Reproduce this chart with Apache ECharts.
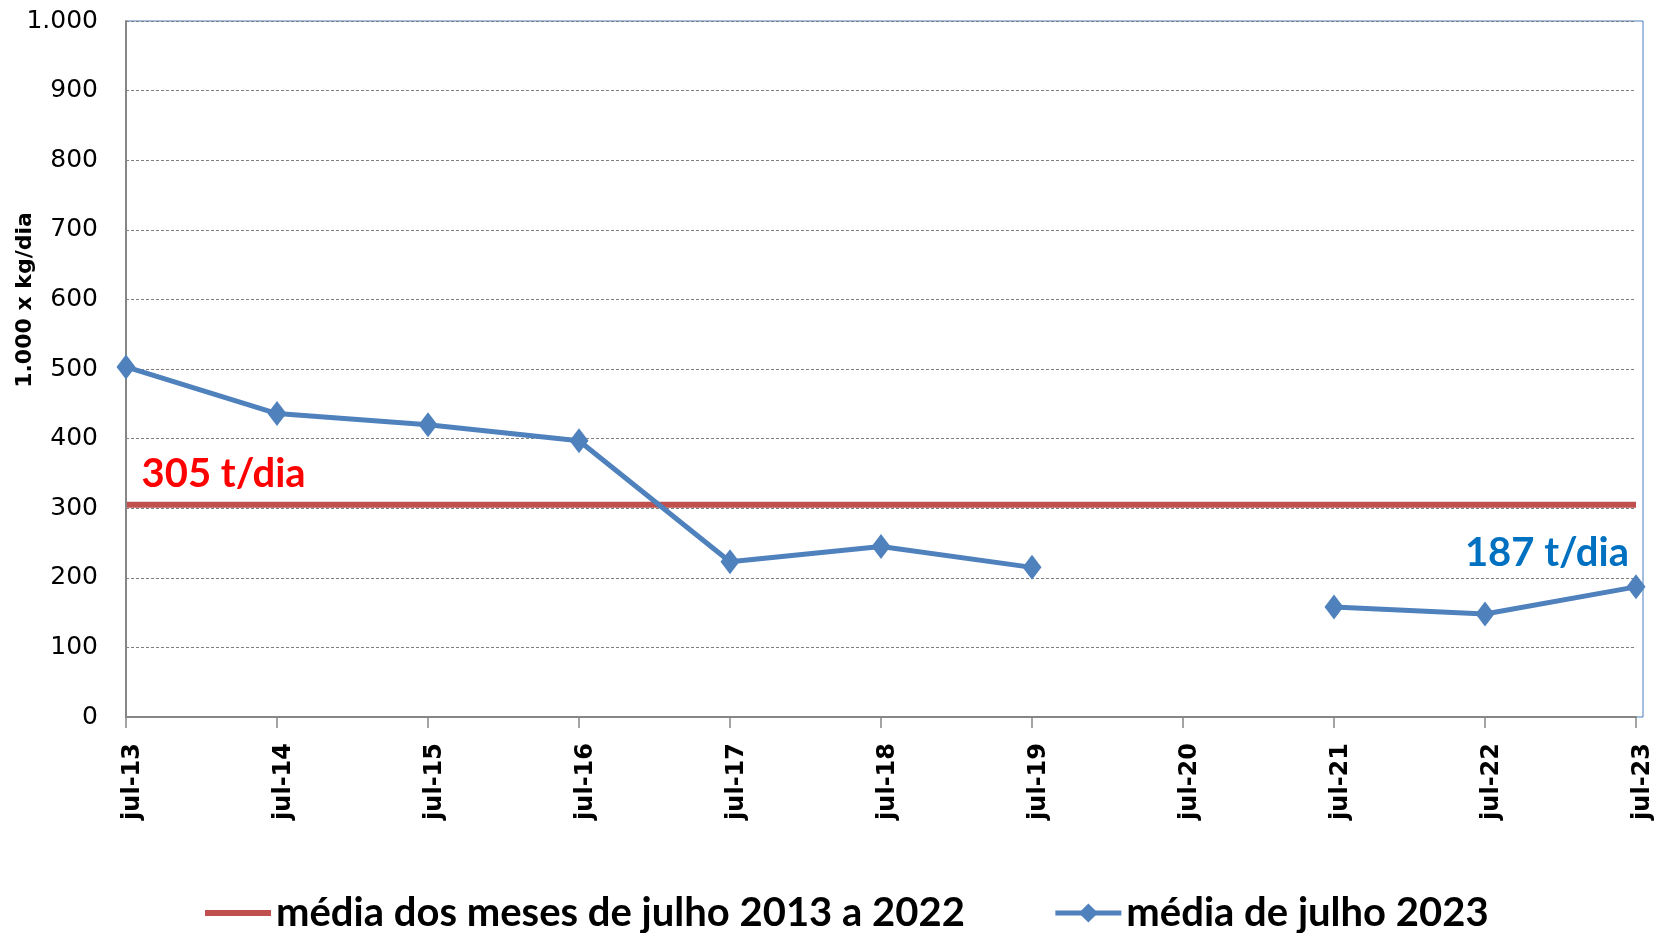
<!DOCTYPE html>
<html>
<head>
<meta charset="utf-8">
<script src="https://cdn.jsdelivr.net/npm/echarts@6/dist/echarts.min.js"></script>
<style>
html,body{margin:0;padding:0;background:#fff;}
#chart{width:1655px;height:933px;}
</style>
</head>
<body>
<div id="chart"></div>
<script>
var categories = ['jul-13','jul-14','jul-15','jul-16','jul-17','jul-18','jul-19','jul-20','jul-21','jul-22','jul-23'];
var averageValues = [305,305,305,305,305,305,305,305,305,305,305];
var julyValues = [503,436,420,397,223,245,215,null,158,148,187];
var yTicks = {min: 0, max: 1000, interval: 100};
var seriesNames = ['média dos meses de julho 2013 a 2022','média de julho 2023'];
var avgLabel = '305 t/dia';
var lastLabel = '187 t/dia';

var labelFont = 'Lato';
var chart = echarts.init(document.getElementById('chart'));

var avgData = averageValues.map(function(v, i){
  if (i === 0) {
    return {value: v, symbol: 'circle', symbolSize: 1,
      label: {show: true, formatter: avgLabel, position: 'right', offset: [10, -31],
      color: '#ff0000', fontSize: 40, fontWeight: 'bold', fontFamily: labelFont}};
  }
  return v;
});
var julyData = julyValues.map(function(v, i){
  if (i === julyValues.length - 1) {
    return {value: v, label: {show: true, formatter: lastLabel, position: 'top', align: 'right', offset: [-7, 4],
      color: '#0070c0', fontSize: 40, fontWeight: 'bold', fontFamily: labelFont}};
  }
  return v;
});

chart.setOption({
  animation: false,
  backgroundColor: '#ffffff',
  grid: [
    {left: 126, right: 19, top: 21, bottom: 216, containLabel: false, outerBoundsMode: 'none'},
    {left: 126, right: 12, top: 21, bottom: 216, show: true, borderColor: '#4a7ebb', borderWidth: 1, z: -1, outerBoundsMode: 'none'}
  ],
  legend: {
    left: 200, top: 888,
    itemWidth: 66, itemHeight: 24, itemGap: 88,
    lineStyle: {width: 5},
    textStyle: {fontSize: 40, fontWeight: 'bold', fontFamily: labelFont, color: '#000'},
    data: [
      {name: seriesNames[0], icon: 'path://M0,0L11,0L11,1L0,1Z', lineStyle: {width: 6}},
      {name: seriesNames[1], lineStyle: {width: 5}}
    ]
  },
  xAxis: [
    {
      type: 'category', data: categories, boundaryGap: false, gridIndex: 0, z: 3,
      axisLine: {lineStyle: {color: '#868686', width: 2}},
      axisTick: {show: true, alignWithLabel: true, length: 11, lineStyle: {color: '#868686', width: 1.5}},
      axisLabel: {rotate: 90, margin: 26, fontSize: 24, fontWeight: 'bold', fontFamily: 'DejaVu Sans', color: '#000', interval: 0,
        verticalAlign: 'top', lineHeight: 14},
      splitLine: {show: false}
    },
    {type: 'category', data: categories, gridIndex: 1, show: false}
  ],
  yAxis: [
    {
      type: 'value', gridIndex: 0, min: yTicks.min, max: yTicks.max, interval: yTicks.interval, z: 3,
      name: '1.000 x kg/dia', nameLocation: 'middle', nameGap: 90, nameRotate: 90, nameMoveOverlap: false,
      nameTextStyle: {fontSize: 22, fontWeight: 'bold', fontFamily: 'DejaVu Sans', color: '#000', padding: [0, 0, 0, 138]},
      axisLine: {show: true, lineStyle: {color: '#868686', width: 2}},
      axisTick: {show: false},
      axisLabel: {margin: 28, fontSize: 25, fontFamily: 'DejaVu Sans', color: '#000',
        formatter: function(v){ return v >= 1000 ? (v/1000).toFixed(3) : String(v); }},
      splitLine: {show: true, lineStyle: {color: '#7f7f7f', type: [3, 2], width: 1}}
    },
    {type: 'value', gridIndex: 1, show: false}
  ],
  series: [
    {
      name: seriesNames[0], type: 'line', xAxisIndex: 0, yAxisIndex: 0,
      data: avgData, symbol: 'none',
      itemStyle: {color: '#c0504d'},
      lineStyle: {color: '#c0504d', width: 6},
      z: 2
    },
    {
      name: seriesNames[1], type: 'line', xAxisIndex: 0, yAxisIndex: 0,
      data: julyData, connectNulls: false,
      symbol: 'diamond', symbolSize: [19, 25], showAllSymbol: true,
      itemStyle: {color: '#4f81bd'},
      lineStyle: {color: '#4f81bd', width: 5},
      z: 3
    }
  ]
});
</script>
</body>
</html>
